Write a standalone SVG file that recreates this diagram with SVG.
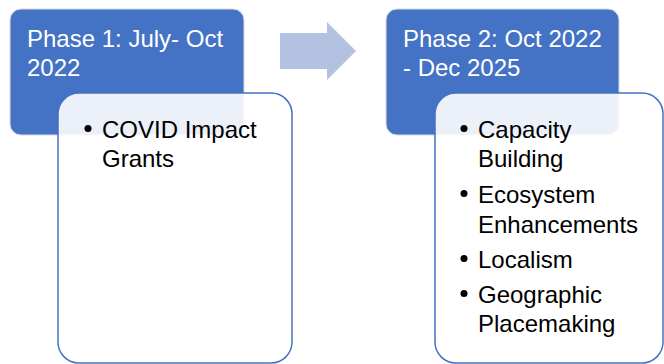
<svg xmlns="http://www.w3.org/2000/svg" width="664" height="364" viewBox="0 0 664 364">
<style>
.hdr{fill:#4472C4;stroke:#D9D9D9;stroke-width:1}
.card{fill:#FFFFFF;fill-opacity:0.9;stroke:#4472C4;stroke-width:1.5}
.ht{font-family:"Liberation Sans",Arial,sans-serif;font-size:24px;fill:#FFFFFF}
.bt{font-family:"Liberation Sans",Arial,sans-serif;font-size:24px;fill:#000000}
.dot{fill:#000000}
</style>
<rect width="664" height="364" fill="#FFFFFF"/>
<g id="phase1">
<rect class="hdr" x="10" y="9" width="234" height="126" rx="11"/>
<text class="ht" x="27" y="47">Phase 1: July- Oct</text>
<text class="ht" x="27" y="76">2022</text>
</g>
<g id="phase1-items">
<rect class="card" x="58" y="93" width="234" height="270" rx="21"/>
<circle class="dot" cx="88" cy="128.5" r="3.5"/>
<text class="bt" x="102" y="138">COVID Impact</text>
<text class="bt" x="102" y="167">Grants</text>
</g>
<g id="connectors">
<polygon id="arrow" points="280,33 327,33 327,22 356,51 327,80 327,69 280,69" fill="#B4C2E2"/>
</g>
<g id="phase2">
<rect class="hdr" x="386" y="9" width="233" height="126" rx="11"/>
<text class="ht" x="403" y="47">Phase 2: Oct 2022</text>
<text class="ht" x="403" y="76">- Dec 2025</text>
</g>
<g id="phase2-items">
<rect class="card" x="435" y="93" width="228" height="270" rx="21"/>
<circle class="dot" cx="464" cy="128.5" r="3.5"/>
<text class="bt" x="478" y="138">Capacity</text>
<text class="bt" x="478" y="167">Building</text>
<circle class="dot" cx="464" cy="193.5" r="3.5"/>
<text class="bt" x="478" y="203">Ecosystem</text>
<text class="bt" x="478" y="233">Enhancements</text>
<circle class="dot" cx="464" cy="258.5" r="3.5"/>
<text class="bt" x="478" y="268">Localism</text>
<circle class="dot" cx="464" cy="293.5" r="3.5"/>
<text class="bt" x="478" y="303">Geographic</text>
<text class="bt" x="478" y="332">Placemaking</text>
</g>
</svg>
